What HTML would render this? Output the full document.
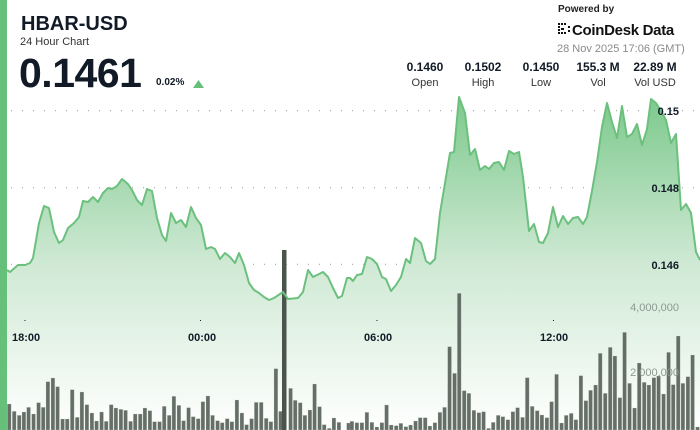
<!DOCTYPE html>
<html><head><meta charset="utf-8">
<style>
html,body{margin:0;padding:0;background:#fff;}
#w{position:relative;width:700px;height:430px;overflow:hidden;font-family:"Liberation Sans",sans-serif;color:#111a26;}
.t{position:absolute;white-space:nowrap;}
</style></head><body><div id="w">
<svg id="s" width="700" height="430" style="position:absolute;left:0;top:0">
<defs>
<linearGradient id="g" gradientUnits="userSpaceOnUse" x1="0" y1="97" x2="0" y2="430">
<stop offset="0" stop-color="#7cc98c"/>
<stop offset="0.5" stop-color="#cfe9d4"/>
<stop offset="1" stop-color="#ffffff"/>
</linearGradient>
</defs>
<g id="grid"></g>
<path id="area" fill="url(#g)"/>
<g id="bars"></g>
<rect x="282" y="250" width="4.5" height="180" fill="#4a544c"/>
<path id="line" fill="none" stroke="#6cc07e" stroke-width="2" stroke-linejoin="round"/>
<rect x="0" y="0" width="7" height="430" fill="#66c07a"/>
<g font-family="Liberation Sans,sans-serif" font-size="11" font-weight="bold" fill="#111a26">
<text x="679" y="115" text-anchor="end">0.15</text>
<text x="679" y="192" text-anchor="end">0.148</text>
<text x="679" y="269" text-anchor="end">0.146</text>
<text x="679" y="311" text-anchor="end" fill="#8d9a8f" font-weight="normal">4,000,000</text>
<text x="679" y="376" text-anchor="end" fill="#8d9a8f" font-weight="normal">2,000,000</text>
<text x="12" y="341">18:00</text>
<text x="188" y="341">00:00</text>
<text x="364" y="341">06:00</text>
<text x="540" y="341">12:00</text>
</g>
<g fill="#111a26"><rect x="24.5" y="320" width="1" height="1"/><rect x="200" y="320" width="1" height="1"/><rect x="376.5" y="320" width="1" height="1"/><rect x="553" y="320" width="1" height="1"/></g>
<polygon points="193,88 204,88 198.5,80" fill="#66c07a"/>
<g transform="translate(558,23)" fill="#111">
<rect x="0" y="0" width="2" height="2"/><rect x="3" y="0" width="2" height="2"/><rect x="6" y="0" width="2" height="2"/>
<rect x="0" y="3" width="2" height="2"/><rect x="0" y="6" width="2" height="2"/><rect x="0" y="9" width="2" height="2"/>
<rect x="3" y="9" width="2" height="2"/><rect x="6" y="9" width="2" height="2"/><rect x="3" y="5" width="3" height="2"/>
<rect x="10" y="3" width="2" height="2"/><rect x="10" y="7" width="2" height="2"/>
</g>
</svg>
<div class="t" style="left:21px;top:13px;font-size:20px;font-weight:bold;">HBAR-USD</div>
<div class="t" style="left:20px;top:36px;font-size:11px;color:#333;">24 Hour Chart</div>
<div class="t" style="left:19px;top:50px;font-size:41px;font-weight:bold;letter-spacing:-0.5px;">0.1461</div>
<div class="t" style="left:156px;top:77px;font-size:10px;font-weight:bold;">0.02%</div>
<div class="t" style="left:558px;top:4px;font-size:10px;font-weight:bold;color:#222;">Powered by</div>
<div class="t" style="left:572px;top:22px;font-size:15px;font-weight:bold;color:#111;letter-spacing:-0.3px;">CoinDesk Data</div>
<div class="t" style="left:557px;top:43px;font-size:11px;color:#8a8a8a;">28 Nov 2025 17:06 (GMT)</div>
<div class="t" style="left:400px;top:60px;width:50px;text-align:center;font-size:12px;font-weight:bold;">0.1460</div>
<div class="t" style="left:458px;top:60px;width:50px;text-align:center;font-size:12px;font-weight:bold;">0.1502</div>
<div class="t" style="left:516px;top:60px;width:50px;text-align:center;font-size:12px;font-weight:bold;">0.1450</div>
<div class="t" style="left:568px;top:60px;width:60px;text-align:center;font-size:12px;font-weight:bold;">155.3 M</div>
<div class="t" style="left:625px;top:60px;width:60px;text-align:center;font-size:12px;font-weight:bold;">22.89 M</div>
<div class="t" style="left:400px;top:77px;width:50px;text-align:center;font-size:11px;color:#333;">Open</div>
<div class="t" style="left:458px;top:77px;width:50px;text-align:center;font-size:11px;color:#333;">High</div>
<div class="t" style="left:516px;top:77px;width:50px;text-align:center;font-size:11px;color:#333;">Low</div>
<div class="t" style="left:568px;top:77px;width:60px;text-align:center;font-size:11px;color:#333;">Vol</div>
<div class="t" style="left:625px;top:77px;width:60px;text-align:center;font-size:11px;color:#333;">Vol USD</div>
</div>
<script>
var NS="http://www.w3.org/2000/svg";
var pts=[[7,270],[10,272],[18,265],[25,265],[30,263],[33,258],[39,223],[44,206],[49,208],[54,232],[59,243],[63,240],[68,228],[74,223],[79,217],[83,201],[88,202],[93,197],[98,202],[103,193],[108,188],[112,189],[117,186],[122,179],[128,184],[132,190],[137,200],[142,205],[147,189],[152,191],[157,218],[162,235],[166,241],[171,213],[176,223],[181,220],[186,227],[191,207],[196,218],[201,225],[206,249],[211,247],[215,249],[220,259],[225,253],[230,257],[235,263],[239,253],[244,265],[249,283],[254,290],[259,293],[264,297],[269,300],[274,298],[283,292],[288,299],[298,298],[303,292],[308,270],[313,277],[323,272],[328,277],[333,288],[338,298],[342,296],[347,278],[350,278],[353,281],[357,275],[362,274],[367,257],[372,259],[377,264],[382,277],[386,279],[391,291],[396,285],[401,277],[406,259],[410,263],[415,238],[421,243],[426,261],[430,264],[435,259],[440,213],[445,183],[450,153],[454,152],[459,97],[465,113],[470,155],[475,149],[480,170],[485,166],[489,169],[494,163],[499,162],[504,170],[509,151],[514,154],[519,152],[523,177],[529,231],[534,224],[539,242],[543,243],[548,233],[553,207],[558,227],[563,216],[568,224],[573,218],[578,217],[583,224],[587,217],[592,191],[597,162],[602,127],[607,103],[612,122],[617,138],[622,106],[627,137],[632,134],[637,124],[642,145],[647,129],[651,99],[656,103],[661,111],[666,120],[671,143],[676,134],[681,210],[686,204],[691,213],[696,252],[700,260]];
var d="M"+pts.map(function(p){return p.join(",")}).join(" L");
document.getElementById("line").setAttribute("d",d);
document.getElementById("area").setAttribute("d",d+" L700,430 L7,430 Z");
var g=document.getElementById("grid");
[110.7,187.7,264.3,307.7,372].forEach(function(y){for(var x=11;x<700;x+=11){var r=document.createElementNS(NS,"rect");r.setAttribute("x",x);r.setAttribute("y",y-0.5);r.setAttribute("width",1);r.setAttribute("height",1);r.setAttribute("fill","#999");g.appendChild(r);}});
var b1=[[22,462],[37,484],[52,496],[66,486],[80,472],[95,492],[110,458],[124,472],[138,395],[153,384],[167,410],[182,507],[196,507],[211,419],[226,502],[240,426],[255,464],[270,489],[284,513],[299,486],[313,514],[328,464],[342,474],[357,478],[371,481],[386,514],[400,492],[415,492],[429,474],[444,482],[458,515],[473,515],[487,469],[502,496],[516,439],[531,466],[545,512],[560,473],[574,500],[589,506],[603,455],[618,438],[632,496],[647,512],[661,518],[676,506],[690,515],[705,450],[720,489],[734,524],[749,506],[763,457],[778,457],[793,505],[807,515],[822,356],[836,484],[866,415],[880,451],[895,458],[909,496],[924,480],[938,402],[953,470],[967,524],[982,535],[996,504],[1011,517],[1040,519]];
var b2=[[0,514],[15,518],[30,518],[45,487],[60,517],[75,531],[90,518],[104,465],[118,525],[133,527],[147,520],[162,530],[176,525],[191,513],[205,503],[220,503],[234,528],[249,518],[264,487],[278,472],[293,290],[308,370],[322,130],[337,422],[351,430],[366,481],[381,488],[395,485],[410,535],[424,517],[439,496],[453,500],[468,509],[483,485],[497,473],[512,502],[526,383],[541,469],[556,482],[570,495],[585,503],[599,455],[614,373],[629,519],[643,496],[658,490],[672,509],[687,377],[702,452],[716,421],[731,405],[745,310],[760,430],[775,292],[789,318],[804,443],[818,247],[833,400],[848,474],[862,339],[877,397],[891,405],[906,383],[920,378],[935,432],[950,307],[964,404],[979,258],[993,400],[1008,380],[1022,315],[1037,531]];
var bg=document.getElementById("bars");
function add(x,y){var r=document.createElementNS(NS,"rect");r.setAttribute("x",x);r.setAttribute("y",y);r.setAttribute("width",3.8);r.setAttribute("height",430-y);r.setAttribute("fill","rgba(75,85,78,0.85)");r.setAttribute("stroke","rgba(200,210,200,0.5)");r.setAttribute("stroke-width","0.5");bg.appendChild(r);}
b1.forEach(function(b){add(b[0]/3,b[1]/3+250)});
b2.forEach(function(b){add(b[0]/3+350,b[1]/3+250)});
</script>
</body></html>
